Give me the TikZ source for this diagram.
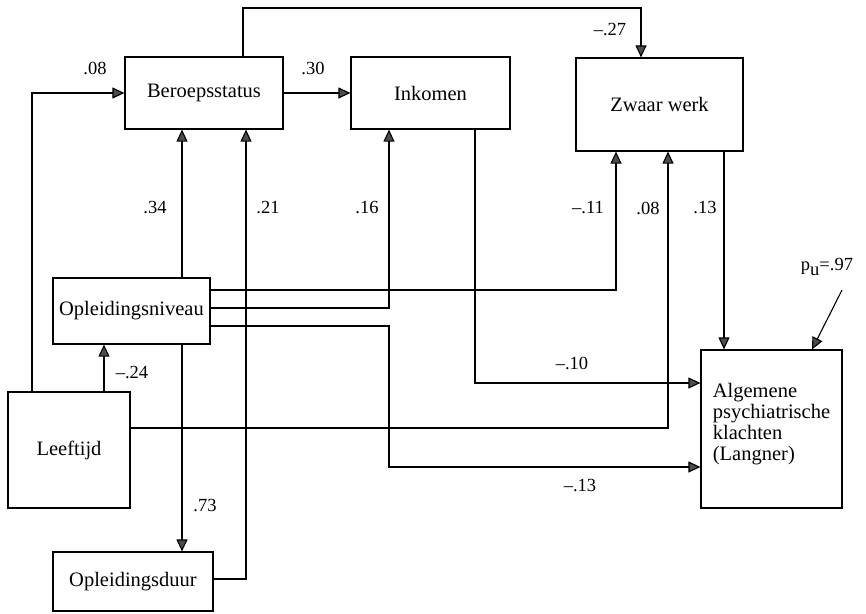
\documentclass[tikz,border=0pt]{standalone}
\usepackage{fontspec}
\setmainfont{Liberation Serif}
\usetikzlibrary{arrows.meta}
\tikzset{
  blok/.style={draw, line width=1.2pt, inner sep=2pt, font=\fontsize{20.5}{21}\selectfont},
  pijl/.style={line width=1.1pt, -{Triangle[length=12pt,width=11pt,fill=black!70]}},
  coef/.style={font=\fontsize{18.5}{20}\selectfont}
}
\begin{document}
\begin{tikzpicture}[x=1pt, y=-1pt]
            \useasboundingbox (0,0) rectangle (866,613);
            % variabelen
            \node[blok, minimum width=158pt, minimum height=72pt] (beroep) at (204,93) {Beroepsstatus};
            \node[blok, minimum width=159pt, minimum height=72pt] (inkomen) at (430.5,93) {Inkomen};
            \node[blok, minimum width=167pt, minimum height=93pt] (zwaar) at (659.5,104.5) {Zwaar werk};
            \node[blok, minimum width=157pt, minimum height=66pt] (opniv) at (131.5,311) {Opleidingsniveau};
            \node[blok, minimum width=122pt, minimum height=116pt] (leeftijd) at (69,450) {Leeftijd};
            \node[blok, minimum width=160pt, minimum height=59pt] (opduur) at (133,581.5) {Opleidingsduur};
            \node[blok, minimum width=141pt, minimum height=158pt, align=left] (klachten) at (771.5,429)
              {Algemene\\psychiatrische\\klachten\\(Langner)\\[-6pt]};
            % knikpunten
            \coordinate (k1) at (32,93);
            \coordinate (b1) at (243,8);
            \coordinate (b2) at (641,8);
            \coordinate (x182) at (182,200);
            \coordinate (d1) at (246,579);
            \coordinate (e1) at (389,308);
            \coordinate (f1) at (616,290);
            \coordinate (g1) at (668,428);
            \coordinate (h1) at (724,200);
            \coordinate (i1) at (475,383);
            \coordinate (j1) at (389,326);
            \coordinate (j2) at (389,467);
            \coordinate (m1) at (104,400);
            \coordinate (p0) at (842,290);
            \coordinate (p1) at (812,0);
            % paden
            \draw[pijl] (leeftijd.north -| k1) -- (k1) -- (beroep.west);
            \draw[pijl] (beroep) -- (inkomen);
            \draw[pijl] (beroep.north -| b1) -- (b1) -- (b2) -- (zwaar.north -| b2);
            \draw[pijl] (opniv.north -| x182) -- (beroep.south -| x182);
            \draw[pijl] (opniv.south -| x182) -- (opduur.north -| x182);
            \draw[pijl] (opduur.east |- d1) -- (d1) -- (beroep.south -| d1);
            \draw[pijl] (opniv.east |- e1) -- (e1) -- (inkomen.south -| e1);
            \draw[pijl] (opniv.east |- f1) -- (f1) -- (zwaar.south -| f1);
            \draw[pijl] (leeftijd.east |- g1) -- (g1) -- (zwaar.south -| g1);
            \draw[pijl] (zwaar.south -| h1) -- (klachten.north -| h1);
            \draw[pijl] (inkomen.south -| i1) -- (i1) -- (klachten.west |- i1);
            \draw[pijl] (opniv.east |- j1) -- (j1) -- (j2) -- (klachten.west |- j2);
            \draw[pijl] (leeftijd.north -| m1) -- (opniv.south -| m1);
            \draw[pijl] (p0) -- (klachten.north -| p1);
            % coefficienten
            \node[coef] (c08) at (95,68) {.08};
            \node[coef] (c30) at (313,68) {.30};
            \node[coef] (c27) at (610,30) {--.27};
            \node[coef] (c34) at (155,208) {.34};
            \node[coef] (c21) at (268,208) {.21};
            \node[coef] (c16) at (367,208) {.16};
            \node[coef] (c11) at (588,208) {--.11};
            \node[coef] (c08b) at (648,208) {.08};
            \node[coef] (c13) at (705,208) {.13};
            \node[coef] (c10) at (572,363) {--.10};
            \node[coef] (c13b) at (580,485) {--.13};
            \node[coef] (c24) at (132,373) {--.24};
            \node[coef] (c73) at (205,505) {.73};
            \node[coef] (pu) at (827,267) {p\raisebox{-5pt}{u}=.97};
        \end{tikzpicture}
\end{document}
